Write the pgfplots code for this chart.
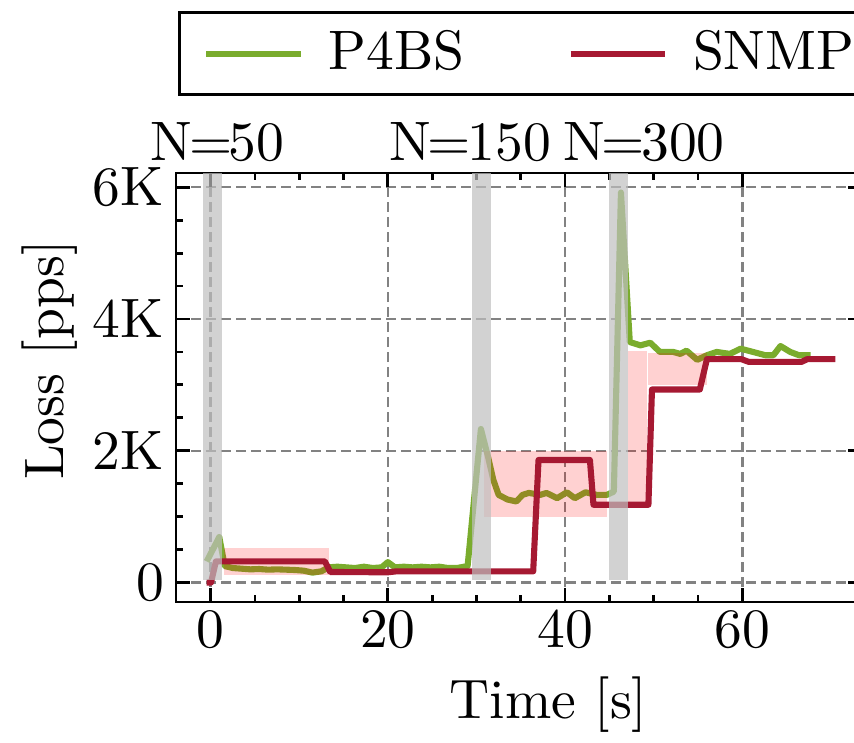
\documentclass[border=0pt]{standalone}
\usepackage{pgfplots}
\pgfplotsset{compat=1.18}
\definecolor{pfour}{RGB}{122,172,45}
\definecolor{snmp}{RGB}{166,25,50}
\definecolor{gridgray}{RGB}{130,130,130}
\definecolor{bargray}{RGB}{191,191,191}
\newcommand{\eq}{\kern-0.6pt=\kern-0.6pt}

\begin{document}
\begin{tikzpicture}
\begin{axis}[
name=ax,
scale only axis,
width=123.48pt, height=77.22pt,
xmin=-3.9, xmax=73.5, ymin=-296, ymax=6216,
xtick={0,20,40,60}, minor x tick num=3,
ytick={0,2000,4000,6000}, yticklabels={0,2K,4K,6K}, minor y tick num=3,
scaled y ticks=false,
tick align=inside,
major tick length=2.5pt, minor tick length=1.3pt,
every tick/.style={black, line width=0.5pt},
axis line style={line width=0.5pt},
grid=major,
major grid style={gridgray, line width=0.45pt, dash pattern=on 1.8pt off 0.9pt},
xticklabel style={inner sep=1.5pt},
yticklabel style={inner sep=2pt},
xlabel={Time [s]}, ylabel={Loss [pps]},
every axis x label/.style={at={([yshift=-18.4pt]rel axis cs:0.543,0)}, anchor=center},
every axis y label/.style={at={([xshift=-22.7pt]rel axis cs:0,0.564)}, rotate=90, anchor=center},
clip mode=individual,
legend style={at={(rel axis cs:0,1)}, anchor=south west, xshift=0.36pt, yshift=13.86pt,
  draw=black, line width=0.5pt, legend columns=2, inner xsep=4.3pt, inner ysep=1.1pt,
  nodes={inner sep=2pt}, /tikz/every even column/.append style={column sep=16.5pt}},
legend image code/.code={\draw[#1] (0pt,0pt) -- (17pt,0pt); \path (19.5pt,0pt);},
]
% P4BS
\addplot[pfour, line width=1.1pt, line join=round] coordinates {
(-0.44,320) (0.98,690) (1.6,250) (2.5,220) (3.5,210) (4.5,200) (5.5,205)
(6.5,195) (7.5,200) (8.5,195) (9.5,190) (10.5,180) (11.5,150) (12.5,170)
(13.3,230) (14.3,240) (15.3,230) (16.3,220) (17.3,240) (18.3,220) (19.3,230)
(20.0,310) (20.8,230) (21.8,240) (22.8,230) (23.8,240) (24.8,230) (25.8,240)
(26.8,220) (27.8,220) (29.0,250) (30.5,2330) (31.3,1910) (31.9,1560)
(32.5,1330) (33.5,1260) (34.5,1230) (35.2,1330) (35.9,1360) (37.2,1330)
(37.9,1360) (39.1,1280) (40.2,1370) (41.1,1280) (42.3,1370) (43.6,1330)
(44.7,1330) (45.5,1380) (46.3,5920) (47.3,3650) (48.5,3600) (49.6,3640)
(50.7,3500) (52.2,3500) (53.0,3470) (53.7,3520) (54.9,3380) (56.0,3450)
(57.1,3500) (58.6,3470) (59.8,3550) (61.2,3500) (62.6,3450) (63.5,3450)
(64.3,3590) (65.4,3500) (66.4,3450) (67.7,3450)
};
\addlegendentry{P4BS}
% shaded gaps
\addplot[draw=none, fill=red, fill opacity=0.18, forget plot] coordinates {(1.5,120) (13.4,120) (13.4,530) (1.5,530)} --cycle;
\addplot[draw=none, fill=red, fill opacity=0.18, forget plot] coordinates {(30.8,1000) (44.7,1000) (44.7,1990) (30.8,1990)} --cycle;
\addplot[draw=none, fill=red, fill opacity=0.18, forget plot] coordinates {(47.1,1180) (49.2,1180) (49.2,3520) (47.1,3520)} --cycle;
\addplot[draw=none, fill=red, fill opacity=0.18, forget plot] coordinates {(49.4,3000) (56.0,3000) (56.0,3490) (49.4,3490)} --cycle;
% SNMP
\addplot[snmp, line width=1.1pt, line join=round] coordinates {
(-0.44,0) (0.05,0) (0.6,320) (12.9,320) (13.5,160) (20,155) (21,170) (36.4,170)
(37.0,1860) (42.8,1860) (43.2,1180) (49.4,1180) (49.8,2930) (55.2,2930)
(56.0,3390) (59.9,3390) (60.7,3350) (66.7,3350) (67.3,3390) (70.5,3390)
};
\addlegendentry{SNMP}
% scaling events
\addplot[draw=none, fill=bargray, fill opacity=0.7, forget plot] coordinates {(-0.85,45) (1.25,45) (1.25,6216) (-0.85,6216)} --cycle;
\addplot[draw=none, fill=bargray, fill opacity=0.7, forget plot] coordinates {(29.5,45) (31.6,45) (31.6,6216) (29.5,6216)} --cycle;
\addplot[draw=none, fill=bargray, fill opacity=0.7, forget plot] coordinates {(45.0,45) (47.1,45) (47.1,6216) (45.0,6216)} --cycle;
\node[anchor=base] at (axis cs:0.8,6404) {N\eq 50};
\node[anchor=base] at (axis cs:29.3,6404) {N\eq 150};
\node[anchor=base] at (axis cs:48.9,6404) {N\eq 300};
\end{axis}
\pgfresetboundingbox
\path ([shift={(-31.68pt,-25.2pt)}]ax.south west) rectangle ([shift={(-1.44pt,31.14pt)}]ax.north east);
\end{tikzpicture}
\end{document}
